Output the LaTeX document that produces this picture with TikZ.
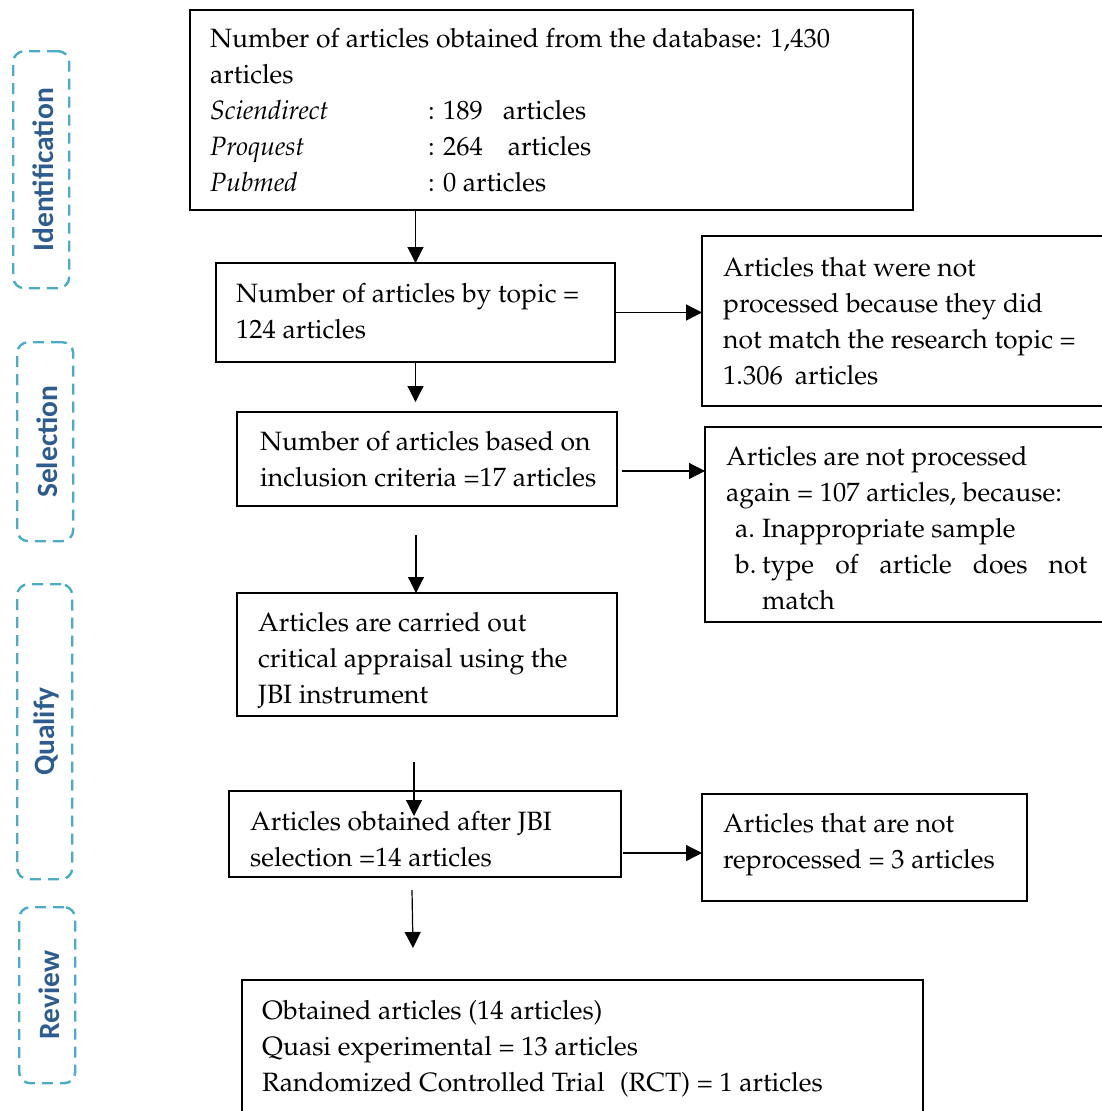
\documentclass[tikz,border=0pt]{standalone}
\usepackage{fontspec}
\newfontfamily\sidefont{Carlito}
\usepackage[T1]{fontenc}
\usepackage{mathpazo}
\usetikzlibrary{arrows.meta}
\definecolor{sideblue}{HTML}{2E5C8E}
\definecolor{dashcol}{HTML}{4BACC6}
\tikzset{
  box/.style={draw=black, line width=1.6pt, rectangle, anchor=north west, inner sep=0pt, outer sep=0pt},
  txt/.style={anchor=west, align=left, inner sep=0pt, font=\fontsize{26.5}{36}\selectfont},
  arr/.style={line width=1.2pt, -{Triangle[length=16pt,width=16pt]}},
  side/.style={draw=dashcol, line width=2.4pt, dash pattern=on 11pt off 7pt, rounded corners=11pt, anchor=north west, inner sep=0pt},
  sidetxt/.style={rotate=90, text=sideblue, font=\sidefont\bfseries\fontsize{29.5}{32}\selectfont, inner sep=0pt}
}
\begin{document}
\begin{tikzpicture}[x=1pt,y=-1pt]
\useasboundingbox (0,0) rectangle (1101,1111);
% side labels
\node[side, minimum width=56pt, minimum height=237pt] (s1) at (12,50) {};
\node[sidetxt] (s1t) at ([xshift=2pt]s1.center) {Identification};
\node[side, minimum width=56pt, minimum height=199pt] (s2) at (16,341) {};
\node[sidetxt] (s2t) at ([xshift=2pt]s2.center) {Selection};
\node[side, minimum width=55pt, minimum height=295pt] (s3) at (16,583) {};
\node[sidetxt] (s3t) at ([xshift=2pt]s3.center) {Qualify};
\node[side, minimum width=56pt, minimum height=176pt] (s4) at (18,906) {};
\node[sidetxt] (s4t) at ([xshift=2pt]s4.center) {Review};
% boxes
\node[box, minimum width=723pt, minimum height=200pt] (b1) at (190,10) {};
\node[txt] (t1) at ([xshift=20pt]b1.west) {Number of articles obtained from the database: 1,430\\articles\\
\makebox[218pt][l]{\textit{Sciendirect}}: 189\hspace{20pt}articles\\
\makebox[218pt][l]{\textit{Proquest}}: 264\hspace{25pt}articles\\
\makebox[218pt][l]{\textit{Pubmed}}: 0 articles};
\node[box, minimum width=399pt, minimum height=99pt] (b2) at (216,263) {};
\node[txt] (t2) at ([xshift=20pt,yshift=1pt]b2.west) {Number of articles by topic =\\124 articles};
\node[box, minimum width=402pt, minimum height=170pt] (b3) at (702,236) {};
\node[txt] (t3) at ([xshift=21pt]b3.west) {Articles that were not\\processed because they did\\not match the research topic =\\1.306\hspace{12pt}articles};
\node[box, minimum width=380pt, minimum height=94pt] (b4) at (237,412) {};
\node[txt] (t4) at ([xshift=23pt]b4.west) {Number of articles based on\\inclusion criteria =17 articles};
\node[box, minimum width=399pt, minimum height=195pt] (b5) at (705,427) {};
\node[txt] (t5) at ([xshift=21pt,yshift=-4pt]b5.west) {Articles are not processed\\again = 107 articles, because:\\
\hspace{9pt}\makebox[27pt][l]{a.}Inappropriate sample\\
\hspace{9pt}\makebox[27pt][l]{b.}\makebox[325pt][s]{type\hfil of\hfil article\hfil does\hfil not}\\
\hspace{36pt}match};
\node[box, minimum width=380pt, minimum height=123pt] (b6) at (237,593) {};
\node[txt] (t6) at ([xshift=21pt,yshift=-6pt]b6.west) {Articles are carried out\\critical appraisal using the\\JBI instrument};
\node[box, minimum width=392pt, minimum height=86pt] (b7) at (229,791) {};
\node[txt] (t7) at ([xshift=21pt,yshift=-5pt]b7.west) {Articles obtained after JBI\\selection =14 articles};
\node[box, minimum width=325pt, minimum height=107pt] (b8) at (702,794) {};
\node[txt] (t8) at ([xshift=21pt,yshift=3pt]b8.west) {Articles that are not\\reprocessed = 3 articles};
\node[box, minimum width=681pt, minimum height=133pt] (b9) at (242,980) {};
\node[txt] (t9) at ([xshift=20pt,yshift=-2pt]b9.west) {Obtained articles (14 articles)\\Quasi experimental = 13 articles\\Randomized Controlled Trial\hspace{15pt}(RCT) = 1 articles};
% free ends
\coordinate (e2) at (415.5,402);
\coordinate (s4a) at (622,471);
\coordinate (s5a) at (416,535);
\coordinate (s6a) at (414,762);
\coordinate (e6a) at (414,816);
\coordinate (s7a) at (623,853);
\coordinate (s8a) at (412,890);
\coordinate (e8a) at (413,948);
% connectors
\draw[arr] (b1.south -| b2.north) -- (b2.north);
\draw[arr] (b2.south) -- (e2);
\draw[arr] (b2.east) -- (b2.east -| b3.west);
\draw[arr] (s4a) -- (s4a -| b5.west);
\draw[arr] (s5a) -- (s5a |- b6.north);
\draw[arr] (s6a) -- (e6a);
\draw[arr] (s7a) -- (s7a -| b8.west);
\draw[arr] (s8a) -- (e8a);
\end{tikzpicture}
\end{document}
